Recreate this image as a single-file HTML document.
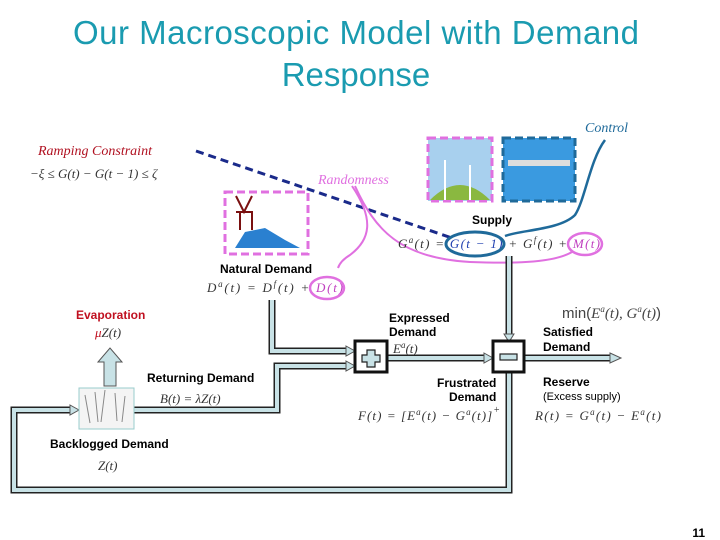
<!DOCTYPE html>
<html><head><meta charset="utf-8"><style>
body{margin:0;background:#fff}
svg{display:block}
.t{font-family:"Liberation Sans",sans-serif}
.b{font-family:"Liberation Sans",sans-serif;font-weight:bold;font-size:12px;fill:#000}
.m{font-family:"Liberation Serif",serif;font-style:italic;font-size:13px;fill:#333}
.s{font-family:"Liberation Serif",serif;font-style:italic}
</style></head><body>
<svg width="720" height="540" viewBox="0 0 720 540" xmlns="http://www.w3.org/2000/svg">
<text class="t" x="356" y="44" font-size="33" fill="#1a9bb0" text-anchor="middle" textLength="566">Our Macroscopic Model with Demand</text>
<text class="t" x="356" y="86" font-size="33" fill="#1a9bb0" text-anchor="middle">Response</text>

<text class="s" x="38" y="155" font-size="14" fill="#b01020">Ramping Constraint</text>
<text class="m" x="30" y="178">−ξ ≤ G(t) − G(t − 1) ≤ ζ</text>
<text class="s" x="585" y="132" font-size="14" fill="#1f6a9a">Control</text>
<text class="s" x="318" y="184" font-size="14" fill="#e070e0">Randomness</text>

<!-- boxes -->
<rect x="428" y="138" width="64" height="63" fill="#a8d0ee" stroke="#e070e0" stroke-width="3" stroke-dasharray="8,4"/>
<path d="M430 200 Q460 170 490 200Z" fill="#8ab840"/>
<line x1="445" y1="200" x2="445" y2="160" stroke="#fff" stroke-width="2"/>
<line x1="470" y1="200" x2="470" y2="165" stroke="#fff" stroke-width="2"/>
<rect x="503" y="138" width="72" height="63" fill="#3a9ae0" stroke="#1f6a9a" stroke-width="3" stroke-dasharray="8,4"/>
<rect x="508" y="160" width="62" height="6" fill="#ddd"/>
<rect x="225" y="192" width="83" height="62" fill="#fff" stroke="#e070e0" stroke-width="3" stroke-dasharray="8,4"/>
<path d="M236 196 L244 212 L252 196 M236 212 L252 212 L252 230 M240 212 L240 230" stroke="#7a1010" stroke-width="2" fill="none"/>
<path d="M235 248 L245 232 L265 228 L285 240 L300 248Z" fill="#2a80d0"/>

<!-- dashed line -->
<line x1="196" y1="151" x2="452" y2="238" stroke="#1a2a8a" stroke-width="3" stroke-dasharray="8,5"/>
<!-- control curve -->
<path d="M605 140 C590 160 585 200 575 215 C560 230 520 230 505 236" stroke="#1f6a9a" stroke-width="2.5" fill="none"/>
<!-- randomness curves -->
<path d="M352 186 C375 220 370 240 350 255 C345 258 340 262 338 268" stroke="#e070e0" stroke-width="2" fill="none"/>
<path d="M355 186 C375 230 400 258 470 262 C520 264 555 262 572 252" stroke="#e070e0" stroke-width="2" fill="none"/>

<text class="b" x="472" y="224">Supply</text>
<text class="m" x="398" y="248" textLength="202">G<tspan font-size="9" dy="-5">a</tspan><tspan dy="5">(t) = </tspan><tspan fill="#2040b0">G(t − 1)</tspan> + G<tspan font-size="9" dy="-5">f</tspan><tspan dy="5">(t) + </tspan><tspan fill="#c040c0">M(t)</tspan></text>
<ellipse cx="475" cy="244" rx="29" ry="12" fill="none" stroke="#1f6a9a" stroke-width="3"/>
<ellipse cx="585" cy="244" rx="17" ry="11" fill="none" stroke="#e070e0" stroke-width="2.5"/>

<text class="b" x="220" y="273">Natural Demand</text>
<text class="m" x="207" y="292" textLength="136">D<tspan font-size="9" dy="-5">a</tspan><tspan dy="5">(t) = D</tspan><tspan font-size="9" dy="-5">f</tspan><tspan dy="5">(t) + </tspan><tspan fill="#c040c0">D(t)</tspan></text>
<ellipse cx="327" cy="288" rx="17" ry="11" fill="none" stroke="#e070e0" stroke-width="2.5"/>

<!-- pipes -->
<g fill="none" stroke-linejoin="miter">
<g stroke="#222" stroke-width="7">
<path d="M272 300 V351 H350"/>
<path d="M134 410 H277 V366 H350"/>
<path d="M509 256 V336"/>
<path d="M387 358 H486"/>
<path d="M524 358 H612"/>
<path d="M509 373 V490 H14 V410 H72"/>
</g>
<g stroke="#c8e2e6" stroke-width="4">
<path d="M272 300 V351 H350"/>
<path d="M134 410 H277 V366 H350"/>
<path d="M509 256 V336"/>
<path d="M387 358 H486"/>
<path d="M524 358 H612"/>
<path d="M509 373 V490 H14 V410 H72"/>
</g>
</g>
<g fill="#c8e2e6" stroke="#555" stroke-width="1">
<path d="M346 346 L355 351 L346 356Z"/>
<path d="M346 361 L355 366 L346 371Z"/>
<path d="M504 334 L509 342 L514 334Z"/>
<path d="M484 353 L493 358 L484 363Z"/>
<path d="M610 353 L621 358 L610 363Z"/>
<path d="M70 405 L79 410 L70 415Z"/>
<path d="M104 386 V362 H98 L110 348 L122 362 H116 V386Z"/>
</g>
<rect x="355" y="341" width="32" height="31" fill="#fff" stroke="#111" stroke-width="3"/>
<path d="M367 350 h8 v5 h5 v7 h-5 v5 h-8 v-5 h-5 v-7 h5z" fill="#c8e2e6" stroke="#222" stroke-width="1.2"/>
<rect x="493" y="341" width="31" height="31" fill="#fff" stroke="#111" stroke-width="3"/>
<rect x="500" y="354" width="17" height="6" fill="#c8e2e6" stroke="#222" stroke-width="1.2"/>
<rect x="79" y="388" width="55" height="41" fill="#f4f4f4" stroke="#9cc" stroke-width="1"/>
<path d="M85 395 l5 28 M95 392 l3 30 M105 390 l-4 32 M115 393 l2 28 M125 396 l-3 26" stroke="#888" stroke-width="1"/>

<text class="t" x="76" y="319" font-size="12" font-weight="bold" fill="#c01020">Evaporation</text>
<text class="m" x="95" y="337"><tspan fill="#c01020">μ</tspan>Z(t)</text>
<text class="b" x="147" y="382">Returning Demand</text>
<text class="m" x="160" y="403">B(t) = λZ(t)</text>
<text class="b" x="50" y="448">Backlogged Demand</text>
<text class="m" x="98" y="470">Z(t)</text>
<text class="b" x="389" y="322">Expressed</text>
<text class="b" x="389" y="336">Demand</text>
<text class="m" x="393" y="353">E<tspan font-size="9" dy="-5">a</tspan><tspan dy="5">(t)</tspan></text>
<text class="t" x="562" y="318" font-size="15" fill="#444">min(<tspan class="s">E</tspan><tspan font-size="9" dy="-6" class="s">a</tspan><tspan dy="6" class="s">(t), G</tspan><tspan font-size="9" dy="-6" class="s">a</tspan><tspan dy="6" class="s">(t)</tspan>)</text>
<text class="b" x="543" y="336">Satisfied</text>
<text class="b" x="543" y="351">Demand</text>
<text class="b" x="437" y="387">Frustrated</text>
<text class="b" x="449" y="401">Demand</text>
<text class="m" x="358" y="420" textLength="142">F(t) = [E<tspan font-size="9" dy="-5">a</tspan><tspan dy="5">(t) − G</tspan><tspan font-size="9" dy="-5">a</tspan><tspan dy="5">(t)]</tspan><tspan font-size="10" dy="-7">+</tspan></text>
<text class="b" x="543" y="386">Reserve</text>
<text class="t" x="543" y="400" font-size="11" fill="#000">(Excess supply)</text>
<text class="m" x="535" y="420" textLength="126">R(t) = G<tspan font-size="9" dy="-5">a</tspan><tspan dy="5">(t) − E</tspan><tspan font-size="9" dy="-5">a</tspan><tspan dy="5">(t)</tspan></text>
<text class="t" x="705" y="538" font-size="12" font-weight="bold" fill="#000" text-anchor="end" dy="-1">11</text>
</svg>
</body></html>
